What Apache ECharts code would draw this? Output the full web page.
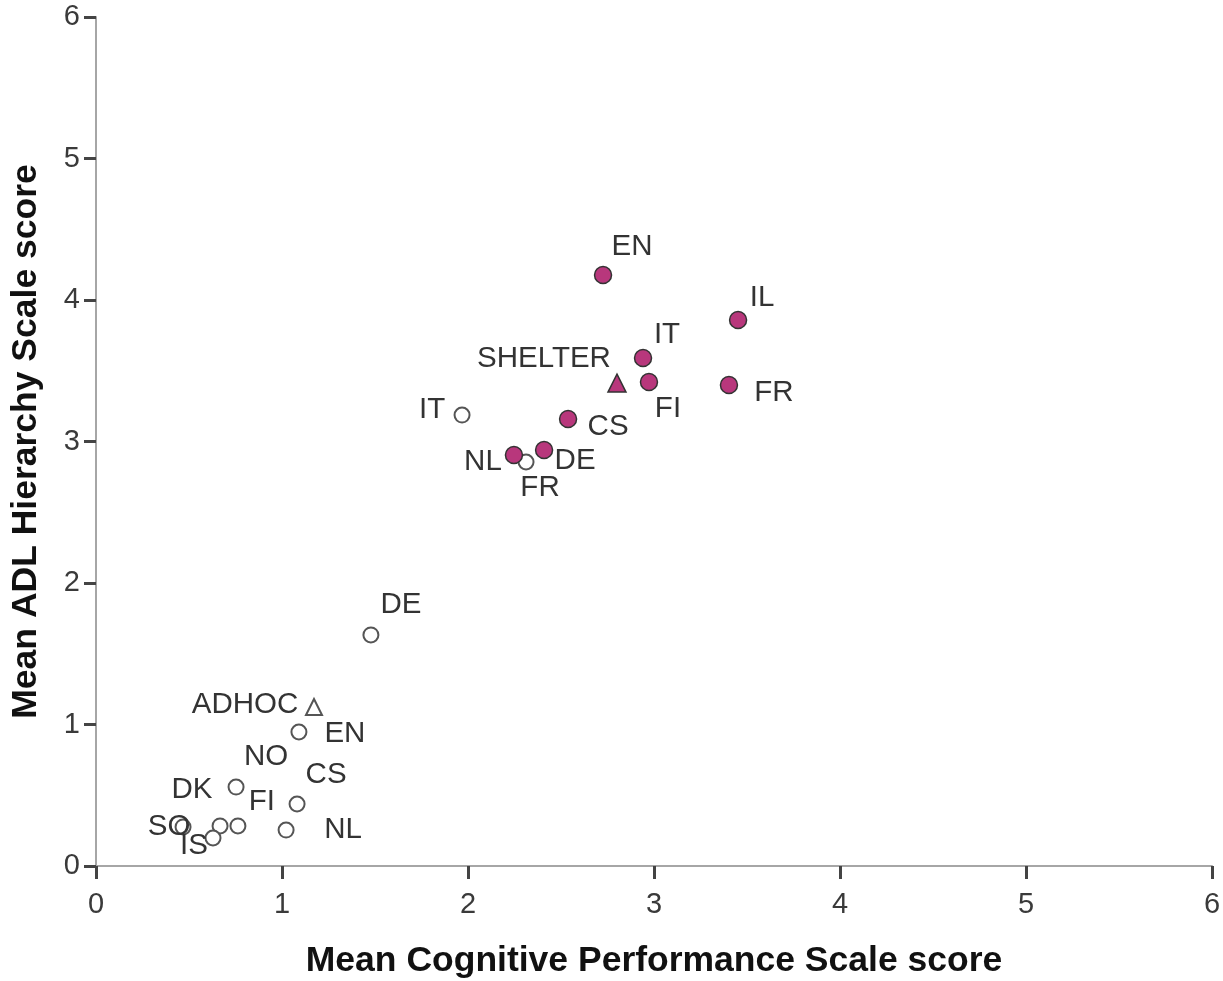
<!DOCTYPE html>
<html>
<head>
<meta charset="utf-8">
<script src="https://cdn.jsdelivr.net/npm/echarts@6/dist/echarts.min.js"></script>
<style>
html,body{margin:0;padding:0;background:#fff;}
#chart{width:1223px;height:981px;}
</style>
</head>
<body>
<div id="chart"></div>
<script>
// ---- data ----
const filledNames = ['EN', 'IL', 'IT', 'FI', 'FR', 'CS', 'DE', 'NL'];
const filledX     = [2.726, 3.452, 2.941, 2.973, 3.403, 2.538, 2.409, 2.247];
const filledY     = [4.177, 3.859, 3.590, 3.420, 3.399, 3.159, 2.940, 2.905];

const openNames = ['IT', 'FR', 'DE', 'EN', 'CS', 'DK', 'NL', 'NO', 'FI', 'SO', 'IS'];
const openX     = [1.968, 2.312, 1.478, 1.091, 1.081, 0.753, 1.022, 0.667, 0.763, 0.468, 0.629];
const openY     = [3.187, 2.855, 1.633, 0.947, 0.438, 0.558, 0.254, 0.283, 0.283, 0.276, 0.198];

const shelterName = 'SHELTER';
const shelterX = 2.801, shelterY = 3.413;
const adhocName = 'ADHOC';
const adhocX = 1.172, adhocY = 1.124;

const xTicks = [0, 1, 2, 3, 4, 5, 6];
const yTicks = [0, 1, 2, 3, 4, 5, 6];

// ---- label offsets (style only) ----
const filledOffsets = [[29,-28],[24,-22],[24,-23],[19,27],[45,8],[40,8],[31,11],[-31,7]];
const openOffsets = [[-30,-5],[14,26],[30,-30],[46,2],[29,-29],[-44,3],[57,0],[46,-69],[24,-24],[-14,0],[-19,8]];
const shelterOffset = [-73,-24];
const adhocOffset = [-69,-2];

const FONT = 'Liberation Sans, Arial, sans-serif';
const MAGENTA = '#b8377c';

function mkLabel(name, off){
  return {show:true, position:'inside', offset:off, formatter:name,
    color:'#333', fontSize:29.5, fontFamily:FONT, align:'center', verticalAlign:'middle'};
}

const filledData = filledNames.map((n,i)=>({name:n, value:[filledX[i], filledY[i]], label:mkLabel(n, filledOffsets[i])}));
const openData = openNames.map((n,i)=>({name:n, value:[openX[i], openY[i]], label:mkLabel(n, openOffsets[i])}));

const chart = echarts.init(document.getElementById('chart'), null, {renderer:'canvas'});
chart.setOption({
  animation:false,
  backgroundColor:'#fff',
  grid:{left:96, right:11, top:17, bottom:115, containLabel:false, outerBoundsMode:'none'},
  xAxis:{
    type:'value', min:xTicks[0], max:xTicks[xTicks.length-1], interval:1,
    name:'Mean Cognitive Performance Scale score', nameLocation:'middle', nameGap:77,
    nameTextStyle:{fontSize:35.5, fontWeight:'bold', color:'#111', fontFamily:FONT},
    axisLine:{show:true, lineStyle:{color:'#a6a6a6', width:2}},
    axisTick:{show:true, length:13, lineStyle:{color:'#444', width:3}},
    axisLabel:{fontSize:29, color:'#3a3a3a', fontFamily:FONT, margin:24},
    splitLine:{show:false}
  },
  yAxis:{
    type:'value', min:yTicks[0], max:yTicks[yTicks.length-1], interval:1,
    name:'Mean ADL Hierarchy Scale score', nameLocation:'middle', nameGap:52, nameRotate:90,
    nameTextStyle:{fontSize:35.5, fontWeight:'bold', color:'#111', fontFamily:FONT},
    axisLine:{show:true, lineStyle:{color:'#a6a6a6', width:2}},
    axisTick:{show:true, length:12, lineStyle:{color:'#444', width:3}},
    axisLabel:{fontSize:29, color:'#3a3a3a', fontFamily:FONT, margin:16},
    splitLine:{show:false}
  },
  series:[
    {type:'scatter', name:'open', symbol:'circle', symbolSize:15, z:2,
     itemStyle:{color:'#fff', borderColor:'#555', borderWidth:2, opacity:1},
     data:openData},
    {type:'scatter', name:'adhoc', symbol:'triangle', symbolSize:16, z:2,
     itemStyle:{color:'#fff', borderColor:'#555', borderWidth:2, opacity:1},
     data:[{name:adhocName, value:[adhocX, adhocY], label:mkLabel(adhocName, adhocOffset)}]},
    {type:'scatter', name:'filled', symbol:'circle', symbolSize:17, z:3,
     itemStyle:{color:MAGENTA, borderColor:'#333', borderWidth:1.5, opacity:1},
     data:filledData},
    {type:'scatter', name:'shelter', symbol:'triangle', symbolSize:18, z:3,
     itemStyle:{color:MAGENTA, borderColor:'#333', borderWidth:1.5, opacity:1},
     data:[{name:shelterName, value:[shelterX, shelterY], label:mkLabel(shelterName, shelterOffset)}]}
  ]
});
</script>
</body>
</html>
